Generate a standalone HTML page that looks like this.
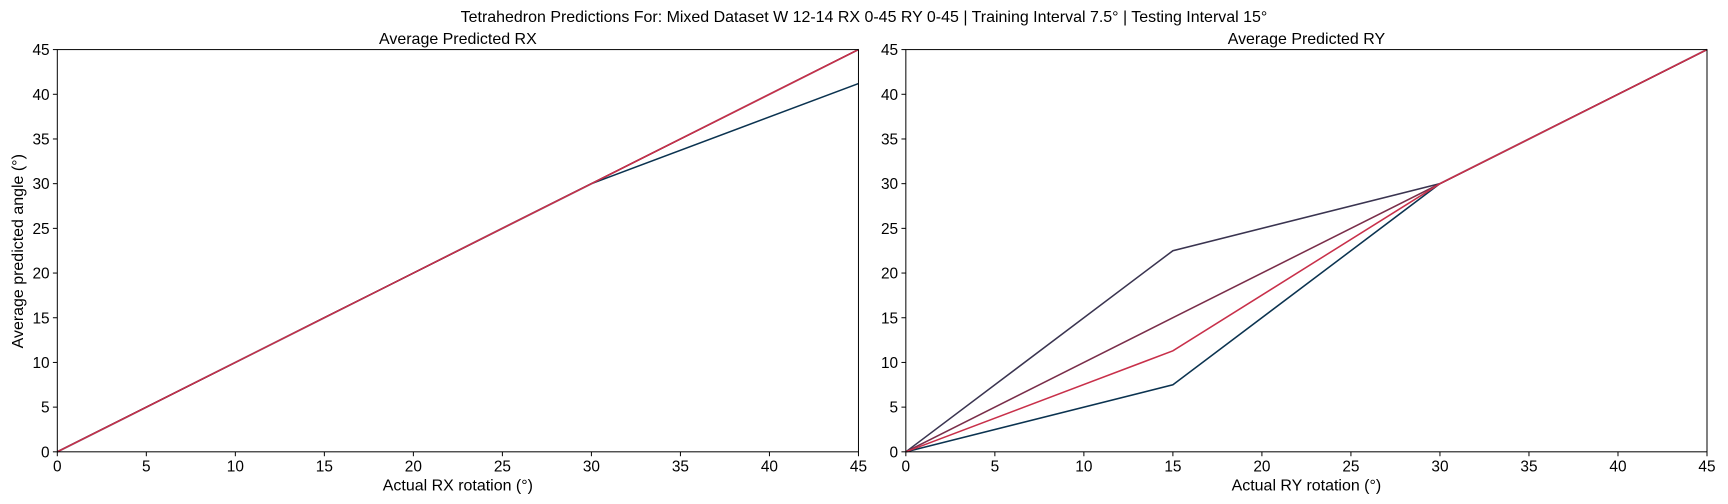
<!DOCTYPE html>
<html><head><meta charset="utf-8"><style>
body{margin:0;background:#fff;}
svg{display:block;font-family:"Liberation Sans","DejaVu Sans",sans-serif;}
</style></head><body>
<svg width="1728" height="504" xmlns="http://www.w3.org/2000/svg">
<g id="chart" transform="scale(1.102)">
<text x="784" y="20" font-size="14.5" text-anchor="middle">Tetrahedron Predictions For: Mixed Dataset W 12-14 RX 0-45 RY 0-45 | Training Interval 7.5° | Testing Interval 15°</text>
</g>
</svg>
<script>
const ticks=[0,5,10,15,20,25,30,35,40,45];
const xs=[0,15,30,45];
const rxSeries=[[0,15,30,45],[0,15,30,45],[0,15,30,45],[0,15,30,41.2]];
const rySeries=[[0,22.5,30,45],[0,15,30,45],[0,11.3,30,45],[0,7.5,30,45]];
const colors=['#3a3450','#7a2e4a','#c8304a','#0b3350'];
const svg=document.getElementById('chart');
const NS='http://www.w3.org/2000/svg';
function mk(t,a,p){const e=document.createElementNS(NS,t);for(const k in a)e.setAttribute(k,a[k]);(p||svg).appendChild(e);return e;}
function panel(x0,x1,title,xlabel,series,order,ylab,key){
  const y0=410,y1=45;
  const X=v=>x0+(x1-x0)*v/45, Y=v=>y0-(y0-y1)*v/45;
  const g=mk('g',{});
  
  
  order.forEach(i=>{
    const p=mk('polyline',{points:xs.map((x,j)=>X(x)+','+Y(series[i][j])).join(' '),fill:'none',stroke:colors[i],'stroke-width':1.4},g);
    
    
  });
  const r=mk('rect',{x:x0,y:y1,width:x1-x0,height:y0-y1,fill:'none',stroke:'#000','stroke-width':0.9},g);
  
  
  ticks.forEach(t=>{
    mk('line',{x1:X(t),x2:X(t),y1:y0,y2:y0+4,stroke:'#000','stroke-width':0.9},g);
    const tx=mk('text',{x:X(t),y:y0+18,'font-size':14,'text-anchor':'middle'},g);tx.textContent=t;
    
    
    mk('line',{x1:x0-4,x2:x0,y1:Y(t),y2:Y(t),stroke:'#000','stroke-width':0.9},g);
    const ty=mk('text',{x:x0-7,y:Y(t)+5,'font-size':14,'text-anchor':'end'},g);ty.textContent=t;
    
    
  });
  const ti=mk('text',{x:(x0+x1)/2,y:40,'font-size':14.5,'text-anchor':'middle'},g);ti.textContent=title;
  
  
  const xl=mk('text',{x:(x0+x1)/2,y:445,'font-size':14.5,'text-anchor':'middle'},g);xl.textContent=xlabel;
  
  
  if(ylab){const yl=mk('text',{x:21,y:228,'font-size':14.5,'text-anchor':'middle',transform:'rotate(-90 21 228)'},g);yl.textContent=ylab;
    
    }
}
panel(52,779,'Average Predicted RX','Actual RX rotation (°)',rxSeries,[0,1,3,2],'Average predicted angle (°)','rx');
panel(822,1549,'Average Predicted RY','Actual RY rotation (°)',rySeries,[0,3,1,2],null,'ry');
</script>
</body></html>
